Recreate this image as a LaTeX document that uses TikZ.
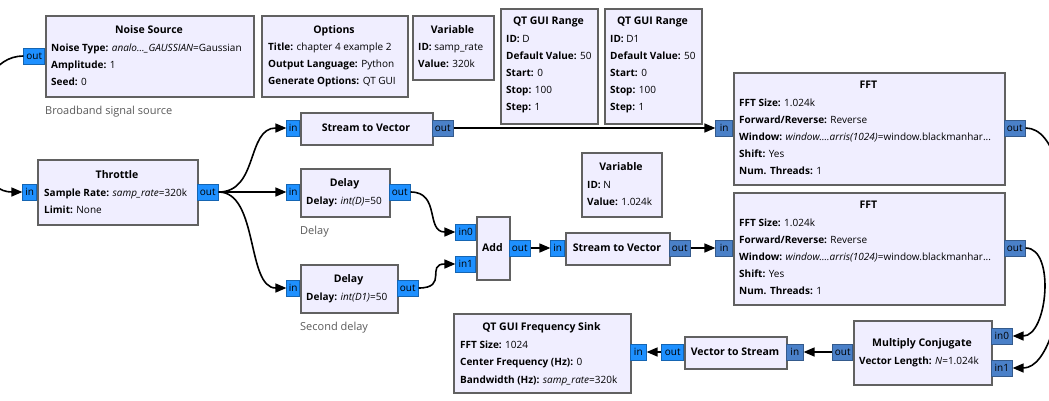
\documentclass[tikz,border=0pt]{standalone}
\usepackage{fontspec}
\setmainfont{Open Sans}
\usetikzlibrary{arrows.meta}
\definecolor{blkfill}{RGB}{240,238,255}
\definecolor{blkedge}{RGB}{97,97,97}
\definecolor{cplx}{RGB}{30,144,255}
\definecolor{cvec}{RGB}{74,128,200}
\definecolor{cmnt}{RGB}{90,90,90}

\begin{document}
\begin{tikzpicture}[>={Triangle[length=11pt,width=9pt]},x=1pt,y=-1pt,
  blk/.style={draw=blkedge,fill=blkfill,line width=2pt,anchor=north west,inner sep=0pt},
  ttl/.style={font=\fontsize{10.5}{12}\selectfont\bfseries,anchor=base,inner sep=0pt},
  prm/.style={font=\fontsize{10}{12}\selectfont,anchor=base west,inner sep=0pt},
  cmt/.style={font=\fontsize{11}{13}\selectfont,text=cmnt,anchor=base west,inner sep=0pt},
  port/.style={draw=#1!70!black,fill=#1,line width=0.6pt,inner sep=0pt,minimum height=16pt,font=\fontsize{10}{12}\selectfont},
  wire/.style={->,line width=1.6pt}]
\clip (0,0) rectangle (1049,400);
\fill[white] (0,0) rectangle (1049,400);

% variables and options
\node[blk,minimum width=208pt,minimum height=81pt] (noise) at (45,15) {};
\node[ttl] (noiseT) at (149,33.5) {Noise Source};
\node[prm] (noiseP1) at (51,51.5) {\textbf{Noise Type:} \textit{analo...\_GAUSSIAN}=Gaussian};
\node[prm] (noiseP2) at (51,68.5) {\textbf{Amplitude:} 1};
\node[prm] (noiseP3) at (51,85.5) {\textbf{Seed:} 0};
\node[port=cplx,minimum width=21pt,anchor=east] (noiseOut) at (45,56) {out};
\node[cmt] (noiseC) at (45,114.5) {Broadband signal source};

\node[blk,minimum width=146pt,minimum height=81pt] (opts) at (261,15) {};
\node[ttl] (optsT) at (334,33.5) {Options};
\node[prm] (optsP1) at (268,50.5) {\textbf{Title:} chapter 4 example 2};
\node[prm] (optsP2) at (268,67.5) {\textbf{Output Language:} Python};
\node[prm] (optsP3) at (268,84.5) {\textbf{Generate Options:} QT GUI};

\node[blk,minimum width=81pt,minimum height=64pt] (vrate) at (412,15) {};
\node[ttl] (vrateT) at (452.5,33.5) {Variable};
\node[prm] (vrateP1) at (418,50.5) {\textbf{ID:} samp\_rate};
\node[prm] (vrateP2) at (418,67.5) {\textbf{Value:} 320k};

\node[blk,minimum width=97pt,minimum height=115pt] (rngD) at (500,8) {};
\node[ttl] (rngDT) at (548.5,24.5) {QT GUI Range};
\node[prm] (rngDP1) at (506,42.5) {\textbf{ID:} D};
\node[prm] (rngDP2) at (506,59.5) {\textbf{Default Value:} 50};
\node[prm] (rngDP3) at (506,76.5) {\textbf{Start:} 0};
\node[prm] (rngDP4) at (506,93.5) {\textbf{Stop:} 100};
\node[prm] (rngDP5) at (506,110.5) {\textbf{Step:} 1};

\node[blk,minimum width=97pt,minimum height=115pt] (rngE) at (604,8) {};
\node[ttl] (rngET) at (652.5,24.5) {QT GUI Range};
\node[prm] (rngEP1) at (610,42.5) {\textbf{ID:} D1};
\node[prm] (rngEP2) at (610,59.5) {\textbf{Default Value:} 50};
\node[prm] (rngEP3) at (610,76.5) {\textbf{Start:} 0};
\node[prm] (rngEP4) at (610,93.5) {\textbf{Stop:} 100};
\node[prm] (rngEP5) at (610,110.5) {\textbf{Step:} 1};

\node[blk,minimum width=80pt,minimum height=64pt] (vN) at (581,152) {};
\node[ttl] (vNT) at (621,170.5) {Variable};
\node[prm] (vNP1) at (587,188.5) {\textbf{ID:} N};
\node[prm] (vNP2) at (587,205.5) {\textbf{Value:} 1.024k};

% signal path
\node[blk,minimum width=160pt,minimum height=65pt] (thr) at (37,159) {};
\node[ttl] (thrT) at (117,178.5) {Throttle};
\node[prm] (thrP1) at (44,196.5) {\textbf{Sample Rate:} \textit{samp\_rate}=320k};
\node[prm] (thrP2) at (44,213.5) {\textbf{Limit:} None};
\node[port=cplx,minimum width=14pt,anchor=east] (thrIn) at (37,192) {in};
\node[port=cplx,minimum width=21pt,anchor=west] (thrOut) at (197,192) {out};

\node[blk,minimum width=132pt,minimum height=32pt] (stv1) at (300,112) {};
\node[ttl] (stv1T) at (366,131.5) {Stream to Vector};
\node[port=cplx,minimum width=13pt,anchor=east] (stv1In) at (300,128) {in};
\node[port=cvec,minimum width=21pt,anchor=west] (stv1Out) at (432,128) {out};

\node[blk,minimum width=89pt,minimum height=48pt] (dly1) at (300,168) {};
\node[ttl] (dly1T) at (344.5,186) {Delay};
\node[prm] (dly1P1) at (306,204.5) {\textbf{Delay:} \textit{int(D)}=50};
\node[port=cplx,minimum width=13pt,anchor=east] (dly1In) at (300,192) {in};
\node[port=cplx,minimum width=21pt,anchor=west] (dly1Out) at (389,192) {out};
\node[cmt] (dly1C) at (300,234.5) {Delay};

\node[blk,minimum width=97pt,minimum height=48pt] (dly2) at (300,264) {};
\node[ttl] (dly2T) at (348.5,282.5) {Delay};
\node[prm] (dly2P1) at (306,300.5) {\textbf{Delay:} \textit{int(D1)}=50};
\node[port=cplx,minimum width=13pt,anchor=east] (dly2In) at (300,288) {in};
\node[port=cplx,minimum width=21pt,anchor=west] (dly2Out) at (397,288) {out};
\node[cmt] (dly2C) at (300,330.5) {Second delay};

\node[blk,minimum width=33pt,minimum height=63pt] (add) at (476,216) {};
\node[ttl] (addT) at (492.5,251.5) {Add};
\node[port=cplx,minimum width=20pt,anchor=east] (addIn0) at (476,232) {in0};
\node[port=cplx,minimum width=20pt,anchor=east] (addIn1) at (476,264) {in1};
\node[port=cplx,minimum width=21pt,anchor=west] (addOut) at (509,248) {out};

\node[blk,minimum width=104pt,minimum height=32pt] (stv2) at (565,232) {};
\node[ttl] (stv2T) at (617,251.5) {Stream to Vector};
\node[port=cplx,minimum width=14pt,anchor=east] (stv2In) at (565,248) {in};
\node[port=cvec,minimum width=21pt,anchor=west] (stv2Out) at (669,248) {out};

\node[blk,minimum width=271pt,minimum height=112pt] (fft1) at (733,72) {};
\node[ttl] (fft1T) at (868.5,88.5) {FFT};
\node[prm] (fft1P1) at (739,106.5) {\textbf{FFT Size:} 1.024k};
\node[prm] (fft1P2) at (739,123.5) {\textbf{Forward/Reverse:} Reverse};
\node[prm] (fft1P3) at (739,140.5) {\textbf{Window:} \textit{window....arris(1024)}=window.blackmanhar...};
\node[prm] (fft1P4) at (739,157.5) {\textbf{Shift:} Yes};
\node[prm] (fft1P5) at (739,174.5) {\textbf{Num. Threads:} 1};
\node[port=cvec,minimum width=17pt,anchor=east] (fft1In) at (733,128) {in};
\node[port=cvec,minimum width=21pt,anchor=west] (fft1Out) at (1004,128) {out};

\node[blk,minimum width=271pt,minimum height=112pt] (fft2) at (733,192) {};
\node[ttl] (fft2T) at (868.5,208.5) {FFT};
\node[prm] (fft2P1) at (739,226.5) {\textbf{FFT Size:} 1.024k};
\node[prm] (fft2P2) at (739,243.5) {\textbf{Forward/Reverse:} Reverse};
\node[prm] (fft2P3) at (739,260.5) {\textbf{Window:} \textit{window....arris(1024)}=window.blackmanhar...};
\node[prm] (fft2P4) at (739,277.5) {\textbf{Shift:} Yes};
\node[prm] (fft2P5) at (739,294.5) {\textbf{Num. Threads:} 1};
\node[port=cvec,minimum width=17pt,anchor=east] (fft2In) at (733,248) {in};
\node[port=cvec,minimum width=21pt,anchor=west] (fft2Out) at (1004,248) {out};

\node[blk,minimum width=138pt,minimum height=64pt] (mul) at (853,320) {};
\node[ttl] (mulT) at (922,346.5) {Multiply Conjugate};
\node[prm] (mulP1) at (859,364.5) {\textbf{Vector Length:} \textit{N}=1.024k};
\node[port=cvec,minimum width=21pt,anchor=west] (mulIn0) at (991,336) {in0};
\node[port=cvec,minimum width=21pt,anchor=west] (mulIn1) at (991,368) {in1};
\node[port=cvec,minimum width=20pt,anchor=east] (mulOut) at (853,352) {out};

\node[blk,minimum width=102pt,minimum height=32pt] (vts) at (684,336) {};
\node[ttl] (vtsT) at (735,355.5) {Vector to Stream};
\node[port=cvec,minimum width=17pt,anchor=west] (vtsIn) at (786,352) {in};
\node[port=cplx,minimum width=22pt,anchor=east] (vtsOut) at (684,352) {out};

\node[blk,minimum width=177pt,minimum height=79pt] (sink) at (453,313) {};
\node[ttl] (sinkT) at (541.5,330.5) {QT GUI Frequency Sink};
\node[prm] (sinkP1) at (460,348.5) {\textbf{FFT Size:} 1024};
\node[prm] (sinkP2) at (460,365.5) {\textbf{Center Frequency (Hz):} 0};
\node[prm] (sinkP3) at (460,383.5) {\textbf{Bandwidth (Hz):} \textit{samp\_rate}=320k};
\node[port=cplx,minimum width=16pt,anchor=west] (sinkIn) at (630,352) {in};

% connections
\draw[wire] (noiseOut.west) .. controls +(-60,0) and +(-60,0) .. (thrIn.west);
\draw[wire] (thrOut.east) .. controls +(40,0) and +(-40,0) .. (stv1In.west);
\draw[wire] (thrOut.east) -- (dly1In.west);
\draw[wire] (thrOut.east) .. controls +(40,0) and +(-40,0) .. (dly2In.west);
\draw[wire] (stv1Out.east) -- (fft1In.west);
\draw[wire] (dly1Out.east) .. controls +(30,0) and +(-30,0) .. (addIn0.west);
\draw[wire] (dly2Out.east) .. controls +(30,0) and +(-30,0) .. (addIn1.west);
\draw[wire] (addOut.east) -- (stv2In.west);
\draw[wire] (stv2Out.east) -- (fft2In.west);
\draw[wire] (fft1Out.east) .. controls +(60,0) and +(60,0) .. (mulIn1.east);
\draw[wire] (fft2Out.east) .. controls +(30,0) and +(35,0) .. (mulIn0.east);
\draw[wire] (mulOut.west) -- (vtsIn.east);
\draw[wire] (vtsOut.west) -- (sinkIn.east);
\end{tikzpicture}
\end{document}
